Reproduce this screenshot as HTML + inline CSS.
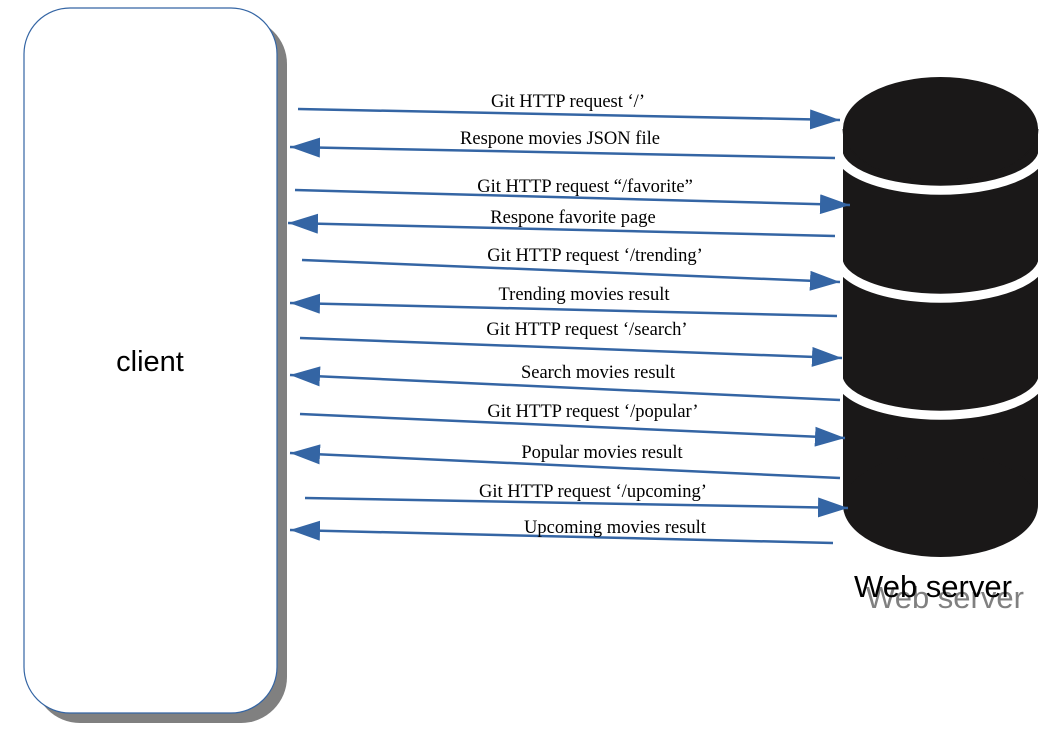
<!DOCTYPE html>
<html><head><meta charset="utf-8"><style>
html,body{margin:0;padding:0;background:#fff;width:1058px;height:747px;overflow:hidden}
svg{display:block}
.t{font-family:"Liberation Serif",serif;font-size:18.5px;fill:#000}
</style></head><body>
<svg width="1058" height="747" viewBox="0 0 1058 747" xmlns="http://www.w3.org/2000/svg">
<defs>
<marker id="a" viewBox="0 0 30 20" refX="30" refY="10" markerWidth="30" markerHeight="20" markerUnits="userSpaceOnUse" orient="auto">
<path d="M0,0 L30,10 L0,20 Z" fill="#3465a4"/>
</marker>
</defs>
<rect x="34" y="18" width="253" height="705" rx="46" fill="#808080"/>
<rect x="24" y="8" width="253" height="705" rx="46" fill="#fff" stroke="#3465a4" stroke-width="1.2"/>
<text x="150" y="371" font-family="Liberation Sans, sans-serif" font-size="29" text-anchor="middle">client</text>
<g fill="#1a1818">
<rect x="843" y="129" width="195" height="376"/>
<ellipse cx="940.5" cy="505" rx="97.5" ry="52"/>
<ellipse cx="940.5" cy="129" rx="97.5" ry="52"/>
</g>
<g fill="none" stroke="#fff" stroke-width="9">
<path d="M838,150 A102,40 0 0 0 1043,150"/>
<path d="M838,258 A102,40 0 0 0 1043,258"/>
<path d="M838,375 A102,40 0 0 0 1043,375"/>
</g>
<path d="M843,129 A97.5,52 0 0 0 1038,129" fill="none" stroke="#1a1818" stroke-width="1"/>
<text x="866" y="608" font-family="Liberation Sans, sans-serif" font-size="31" fill="#808080">Web server</text>
<text x="854" y="597" font-family="Liberation Sans, sans-serif" font-size="31" fill="#000">Web server</text>
<g stroke="#3465a4" stroke-width="2.5" fill="none" marker-end="url(#a)">
<line x1="298" y1="109" x2="840" y2="120"/>
<line x1="835" y1="158" x2="290" y2="147"/>
<line x1="295" y1="190" x2="850" y2="205"/>
<line x1="835" y1="236" x2="288" y2="223"/>
<line x1="302" y1="260" x2="840" y2="282"/>
<line x1="837" y1="316" x2="290" y2="303"/>
<line x1="300" y1="338" x2="842" y2="358"/>
<line x1="840" y1="400" x2="290" y2="375"/>
<line x1="300" y1="414" x2="845" y2="438"/>
<line x1="840" y1="478" x2="290" y2="453"/>
<line x1="305" y1="498" x2="848" y2="508"/>
<line x1="833" y1="543" x2="290" y2="530"/>
</g>
<g class="t" text-anchor="middle">
<text x="568" y="107">Git HTTP request ‘/’</text>
<text x="560" y="144">Respone movies JSON file</text>
<text x="585" y="192">Git HTTP request “/favorite”</text>
<text x="573" y="223">Respone favorite page</text>
<text x="595" y="261">Git HTTP request ‘/trending’</text>
<text x="584" y="300">Trending movies result</text>
<text x="587" y="335">Git HTTP request ‘/search’</text>
<text x="598" y="378">Search movies result</text>
<text x="593" y="417">Git HTTP request ‘/popular’</text>
<text x="602" y="458">Popular movies result</text>
<text x="593" y="497">Git HTTP request ‘/upcoming’</text>
<text x="615" y="533">Upcoming movies result</text>
</g>
</svg>
</body></html>
